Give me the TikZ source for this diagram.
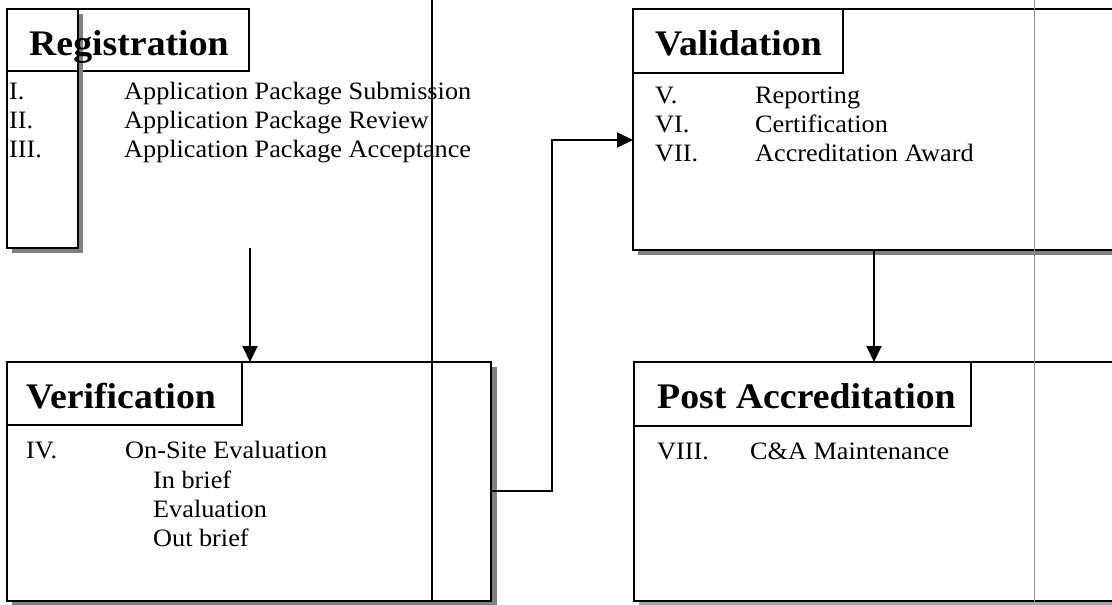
\documentclass[tikz,border=0pt]{standalone}
\usepackage{fontspec}
\setmainfont{Liberation Serif}[FakeStretch=1.05]
\usetikzlibrary{arrows.meta}
\tikzset{
  frame/.style={draw=black, line width=1.9pt, inner sep=0pt, outer sep=0pt, anchor=north west},
  shade/.style={fill=black!50},
  head/.style={anchor=base west, inner sep=0pt, font=\fontsize{36}{42}\selectfont\bfseries},
  item/.style={anchor=base west, inner sep=0pt, font=\fontsize{25}{29}\selectfont},
  link/.style={line width=1.9pt, -{Triangle[length=16pt,width=15pt]}},
  rule/.style={line width=1.3pt, draw=black},
  faint rule/.style={line width=0.8pt, draw=black!45},
}
\begin{document}
\begin{tikzpicture}[x=1pt,y=-1pt]
\useasboundingbox (0,0) rectangle (1112,605);
\clip (0,0) rectangle (1112,605);

% Registration
\node[frame, minimum width=242pt, minimum height=62pt] (regT) at (7,9) {};
\fill[shade] (79,14) rectangle (83,253);
\fill[shade] (12,249) rectangle (83,253);
\node[frame, minimum width=71pt, minimum height=239pt] (reg) at (7,9) {};
\node[head] (regH) at (29,55) {Registration};
\node[item] (r1n) at (9,99) {I.};
\node[item] (r2n) at (9,128) {II.};
\node[item] (r3n) at (9,157) {III.};
\node[item] (r1) at (124,99) {Application Package Submission};
\node[item] (r2) at (124,128) {Application Package Review};
\node[item] (r3) at (124,157) {Application Package Acceptance};

% Verification
\fill[shade] (492,367) rectangle (497,605);
\fill[shade] (12,602) rectangle (497,605);
\node[frame, minimum width=484pt, minimum height=239pt] (ver) at (7,362) {};
\node[frame, minimum width=235pt, minimum height=63pt] (verT) at (7,362) {};
\node[head] (verH) at (26,408) {Verification};
\node[item] (v1n) at (26,458) {IV.};
\node[item] (v1) at (125,458) {On-Site Evaluation};
\node[item] (v2) at (153,488) {In brief};
\node[item] (v3) at (153,517) {Evaluation};
\node[item] (v4) at (153,546) {Out brief};

% Validation
\fill[shade] (638,251) rectangle (1112,255);
\node[frame, minimum width=600pt, minimum height=241pt] (val) at (633,9) {};
\node[frame, minimum width=210pt, minimum height=64pt] (valT) at (633,9) {};
\node[head] (valH) at (655,55) {Validation};
\node[item] (a1n) at (655,103) {V.};
\node[item] (a2n) at (655,132) {VI.};
\node[item] (a3n) at (655,161) {VII.};
\node[item] (a1) at (755,103) {Reporting};
\node[item] (a2) at (755,132) {Certification};
\node[item] (a3) at (755,161) {Accreditation Award};

% Post Accreditation
\fill[black!35] (639,602) rectangle (1112,605);
\node[frame, minimum width=600pt, minimum height=239pt] (post) at (634,362) {};
\node[frame, minimum width=337pt, minimum height=64pt] (postT) at (634,362) {};
\node[head] (postH) at (657,408) {Post Accreditation};
\node[item] (p1n) at (657,459) {VIII.};
\node[item] (p1) at (750,459) {C\&A Maintenance};

% page rules
\coordinate (ruleTop) at (432,0);
\coordinate (ruleBot) at (432,601);
\draw[rule] (ruleTop) -- (ruleBot);
\coordinate (faintTop) at (1034,0);
\coordinate (faintBot) at (1034,602);
\draw[faint rule] (faintTop) -- (faintBot);

% connectors
\coordinate (regOut) at (250,248);
\draw[link] (regOut) -- (regOut |- ver.north);
\coordinate (verOut) at (0,491);
\coordinate (riser) at (552,140);
\draw[link] (ver.east |- verOut) -| (riser) -- (val.west |- riser);
\coordinate (valOut) at (874,0);
\draw[link] (val.south -| valOut) -- (post.north -| valOut);
\end{tikzpicture}
\end{document}
